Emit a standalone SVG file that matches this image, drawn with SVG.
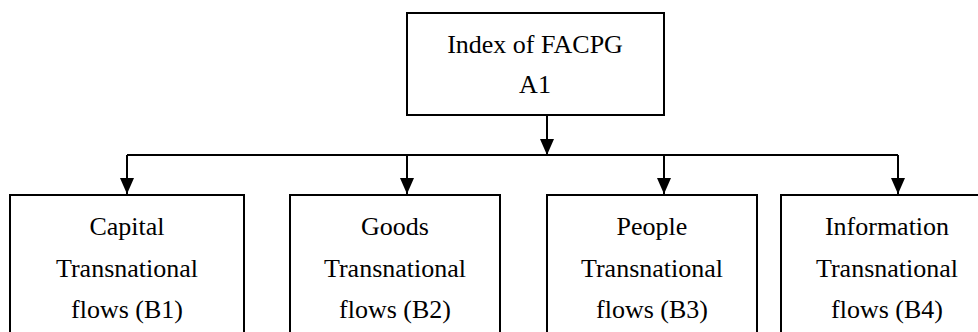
<svg xmlns="http://www.w3.org/2000/svg" width="978" height="332" viewBox="0 0 978 332">
<style>
.box{fill:#fff;stroke:#000;stroke-width:2}
.t{font-family:'Liberation Serif','Times New Roman',Times,'DejaVu Serif',serif;font-size:26px;fill:#000;text-anchor:middle}
.ln{fill:none;stroke:#000;stroke-width:2}
</style>
<defs>
<marker id="ah" markerWidth="16" markerHeight="14" refX="16" refY="7" orient="auto" markerUnits="userSpaceOnUse">
<path d="M0,0 L16,7 L0,14 Z" fill="#000"/>
</marker>
</defs>
<g id="connectors">
<line class="ln" x1="547" y1="115" x2="547" y2="155" marker-end="url(#ah)"/>
<line class="ln" x1="127" y1="155" x2="898" y2="155"/>
<line class="ln" x1="127" y1="155" x2="127" y2="194" marker-end="url(#ah)"/>
<line class="ln" x1="407" y1="155" x2="407" y2="194" marker-end="url(#ah)"/>
<line class="ln" x1="664" y1="155" x2="664" y2="194" marker-end="url(#ah)"/>
<line class="ln" x1="898" y1="155" x2="898" y2="194" marker-end="url(#ah)"/>
</g>
<g id="A1">
<rect class="box" x="407" y="13" width="257" height="102"/>
<text class="t" x="535" y="53" font-family="Liberation Serif, serif">Index of FACPG</text>
<text class="t" x="535" y="93" font-family="Liberation Serif, serif">A1</text>
</g>
<g id="B1">
<rect class="box" x="10" y="195" width="234" height="160"/>
<text class="t" x="127" y="235">Capital</text>
<text class="t" x="127" y="277">Transnational</text>
<text class="t" x="127" y="318">flows (B1)</text>
</g>
<g id="B2">
<rect class="box" x="290" y="195" width="210" height="160"/>
<text class="t" x="395" y="235">Goods</text>
<text class="t" x="395" y="277">Transnational</text>
<text class="t" x="395" y="318">flows (B2)</text>
</g>
<g id="B3">
<rect class="box" x="547" y="195" width="210" height="160"/>
<text class="t" x="652" y="235">People</text>
<text class="t" x="652" y="277">Transnational</text>
<text class="t" x="652" y="318">flows (B3)</text>
</g>
<g id="B4">
<rect class="box" x="781" y="195" width="212" height="160"/>
<text class="t" x="887" y="235">Information</text>
<text class="t" x="887" y="277">Transnational</text>
<text class="t" x="887" y="318">flows (B4)</text>
</g>
</svg>
